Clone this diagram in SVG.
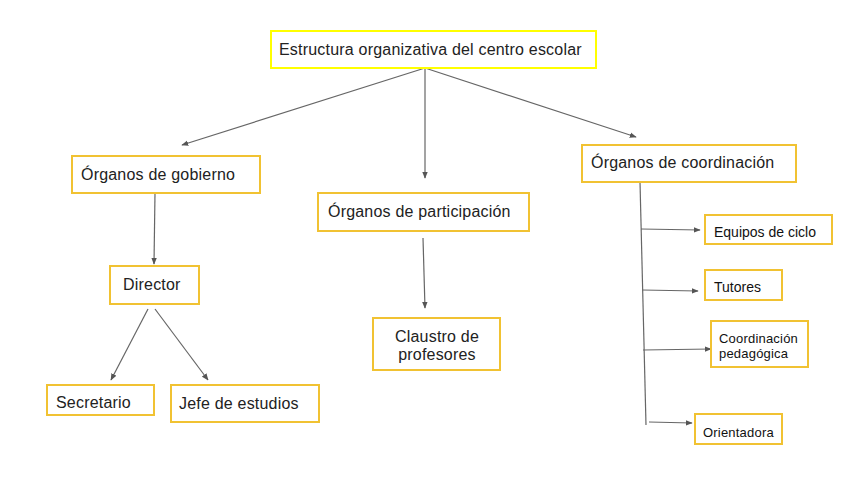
<svg xmlns="http://www.w3.org/2000/svg" width="848" height="477" viewBox="0 0 848 477">
<defs>
<marker id="ah" viewBox="0 0 10 10" refX="9" refY="5" markerWidth="7" markerHeight="7" orient="auto" markerUnits="userSpaceOnUse">
<path d="M0,1 L10,5 L0,9 z" fill="#555"/>
</marker>
</defs>
<style>
.box{fill:#fff;stroke:#f1c232;stroke-width:2}
.title{fill:#fff;stroke:#ffff00;stroke-width:2}
.t{font-family:"Liberation Sans",Arial,sans-serif;font-size:16px;letter-spacing:0.2px;fill:#222}
.s{font-family:"Liberation Sans",Arial,sans-serif;font-size:14px;fill:#111}
.m{font-family:"Liberation Sans",Arial,sans-serif;font-size:13px;letter-spacing:0.2px;fill:#111}
.c{stroke:#666;stroke-width:1.2;fill:none}
.a{marker-end:url(#ah)}
</style>
<rect width="848" height="477" fill="#fff"/>
<g id="connectors">
<line class="c a" x1="425" y1="68" x2="182" y2="145"/>
<line class="c a" x1="425" y1="68" x2="425" y2="178"/>
<line class="c a" x1="425" y1="68" x2="636" y2="137"/>
<line class="c a" x1="155" y1="193" x2="154" y2="264"/>
<line class="c a" x1="423" y1="238" x2="425" y2="308"/>
<line class="c a" x1="148" y1="309" x2="111" y2="380"/>
<line class="c a" x1="155" y1="309" x2="208" y2="380"/>
<line class="c" x1="640" y1="182" x2="646" y2="425"/>
<line class="c a" x1="641" y1="229" x2="700" y2="230"/>
<line class="c a" x1="642" y1="290" x2="698" y2="291"/>
<line class="c a" x1="643" y1="350" x2="711" y2="349"/>
<line class="c a" x1="649" y1="422" x2="692" y2="423"/>
</g>
<g id="n-root">
<rect class="title" x="271" y="31" width="325" height="37"/>
<text class="t" x="279" y="55">Estructura organizativa del centro escolar</text>
</g>
<g id="n-gobierno">
<rect class="box" x="72" y="156" width="188" height="37"/>
<text class="t" x="81" y="180">Órganos de gobierno</text>
</g>
<g id="n-participacion">
<rect class="box" x="318" y="193" width="211" height="38"/>
<text class="t" x="328" y="217">Órganos de participación</text>
</g>
<g id="n-coordinacion">
<rect class="box" x="582" y="145" width="214" height="37"/>
<text class="t" x="591" y="168">Órganos de coordinación</text>
</g>
<g id="n-director">
<rect class="box" x="110" y="266" width="89" height="38"/>
<text class="t" x="123" y="290">Director</text>
</g>
<g id="n-claustro">
<rect class="box" x="373" y="318" width="127" height="52"/>
<text class="t" x="437" y="342" text-anchor="middle">Claustro de</text>
<text class="t" x="437" y="360" text-anchor="middle">profesores</text>
</g>
<g id="n-secretario">
<rect class="box" x="47" y="385" width="107" height="30"/>
<text class="t" x="56" y="408">Secretario</text>
</g>
<g id="n-jefe">
<rect class="box" x="171" y="385" width="148" height="37"/>
<text class="t" x="179" y="409">Jefe de estudios</text>
</g>
<g id="n-equipos">
<rect class="box" x="705" y="215" width="127" height="29"/>
<text class="s" x="714" y="237">Equipos de ciclo</text>
</g>
<g id="n-tutores">
<rect class="box" x="705" y="270" width="77" height="30"/>
<text class="s" x="714" y="292">Tutores</text>
</g>
<g id="n-coordped">
<rect class="box" x="711" y="321" width="97" height="46"/>
<text class="m" x="719" y="343">Coordinación</text>
<text class="m" x="719" y="358">pedagógica</text>
</g>
<g id="n-orientadora">
<rect class="box" x="695" y="414" width="87" height="30"/>
<text class="m" x="703" y="437">Orientadora</text>
</g>
</svg>
